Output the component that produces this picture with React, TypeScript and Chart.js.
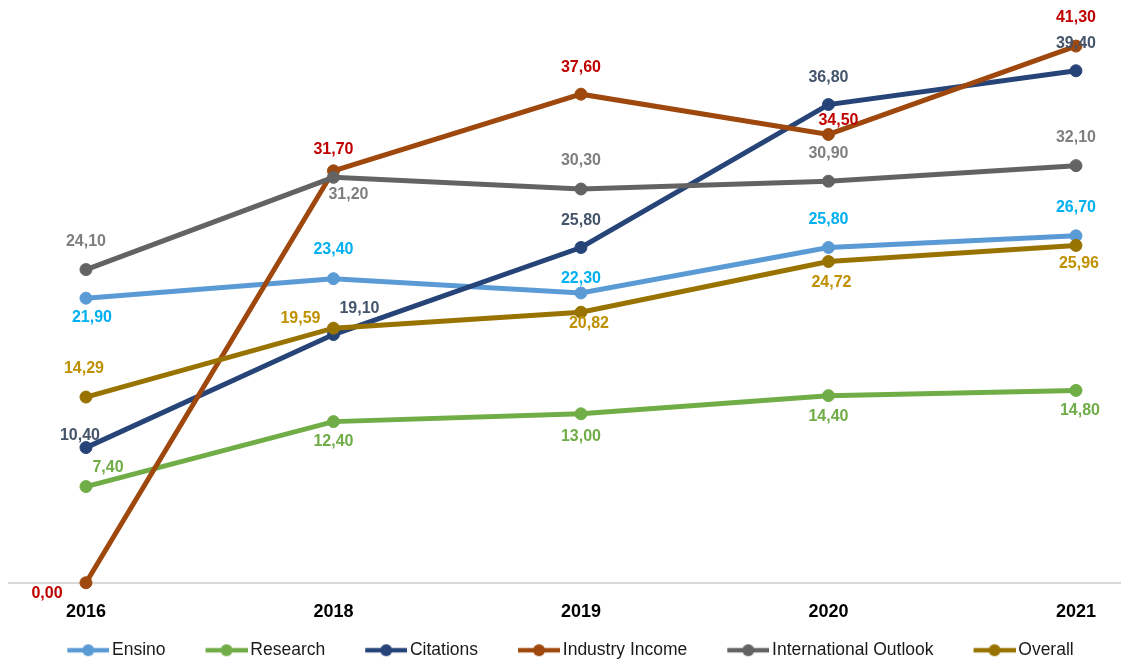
import React, { useEffect, useRef } from "react";
import { Chart, registerables } from "chart.js";

Chart.register(...registerables);

const years = ["2016", "2018", "2019", "2020", "2021"];
const ensino = [21.9, 23.4, 22.3, 25.8, 26.7];
const research = [7.4, 12.4, 13.0, 14.4, 14.8];
const citations = [10.4, 19.1, 25.8, 36.8, 39.4];
const industryIncome = [0.0, 31.7, 37.6, 34.5, 41.3];
const internationalOutlook = [24.1, 31.2, 30.3, 30.9, 32.1];
const overall = [14.29, 19.59, 20.82, 24.72, 25.96];

const seriesNames = ["Ensino", "Research", "Citations", "Industry Income", "International Outlook", "Overall"];
const seriesValues = [ensino, research, citations, industryIncome, internationalOutlook, overall];
const lineColors = ["#5B9BD5", "#70AD47", "#264478", "#9E480E", "#636363", "#997300"];
const labelColors = ["#00B0F0", "#70AD47", "#44546A", "#C00000", "#7F7F7F", "#BF9000"];
// label offsets (dx, dy) from each point, in px
const labelOffsets = [
  [[6, 19], [0, -29], [0, -14], [0, -28], [0, -28]],
  [[22, -19], [0, 20], [0, 23], [0, 21], [4, 20]],
  [[-6, -12], [26, -26], [0, -27], [0, -27], [0, -27]],
  [[-39, 11], [0, -21], [0, -27], [10, -14], [0, -28]],
  [[0, -28], [15, 17], [0, -28], [0, -28], [0, -28]],
  [[-2, -28], [-33, -10], [8, 11], [3, 21], [3, 18]],
];

const FONT = '"Liberation Sans", Arial, sans-serif';

function makeLegendImage(color: string): HTMLCanvasElement {
  const c = document.createElement("canvas");
  c.width = 59;
  c.height = 14;
  const ctx = c.getContext("2d")!;
  ctx.strokeStyle = color;
  ctx.lineWidth = 4.5;
  ctx.beginPath();
  ctx.moveTo(17, 7);
  ctx.lineTo(59, 7);
  ctx.stroke();
  ctx.fillStyle = color;
  ctx.beginPath();
  ctx.arc(38, 7, 6, 0, Math.PI * 2);
  ctx.fill();
  return c;
}

const dataLabelPlugin = {
  id: "dataLabels",
  afterLayout(chart: any) {
    // let the x tick labels extend below the (shortened) axis box without clipping
    if (chart.scales.x) chart.scales.x.bottom = chart.height;
  },
  afterDatasetsDraw(chart: any) {
    const ctx = chart.ctx;
    ctx.save();
    ctx.font = `bold 16px ${FONT}`;
    ctx.textAlign = "center";
    ctx.textBaseline = "middle";
    chart.data.datasets.forEach((ds: any, i: number) => {
      const meta = chart.getDatasetMeta(i);
      ctx.fillStyle = labelColors[i];
      meta.data.forEach((pt: any, j: number) => {
        const v = seriesValues[i][j];
        const [dx, dy] = labelOffsets[i][j];
        ctx.fillText(v.toFixed(2).replace(".", ","), pt.x + dx, pt.y + dy);
      });
    });
    ctx.restore();
  },
};

export default function App() {
  const ref = useRef<HTMLCanvasElement | null>(null);

  useEffect(() => {
    if (!ref.current) return;
    const images = lineColors.map(makeLegendImage);
    const chart = new Chart(ref.current, {
      type: "line",
      data: {
        datasets: seriesNames.map((name, i) => ({
          label: name,
          data: seriesValues[i].map((v, j) => ({ x: j, y: v })),
          borderColor: lineColors[i],
          backgroundColor: lineColors[i],
          pointBackgroundColor: lineColors[i],
          pointBorderColor: lineColors[i],
          pointBorderWidth: 1,
          pointRadius: 6,
          borderWidth: 5,
          tension: 0,
          fill: false,
          order: seriesNames.length - 1 - i,
          clip: false as any,
        })),
      },
      options: {
        responsive: false,
        animation: false,
        layout: { autoPadding: false, padding: { top: 11, left: 9, right: 0, bottom: 0 } },
        scales: {
          x: {
            type: "linear",
            min: -0.311,
            max: 4.182,
            grid: { display: false, drawTicks: false },
            border: { display: true, color: "#D9D9D9", width: 2 },
            afterBuildTicks: (axis: any) => {
              axis.ticks = years.map((_, i) => ({ value: i }));
            },
            afterFit: (axis: any) => {
              axis.height = 29.75;
            },
            ticks: {
              padding: 18.5,
              color: "#000000",
              font: { family: FONT, size: 18, weight: "bold" },
              callback: (value: any) => years[value as number] ?? "",
            },
          },
          y: {
            display: false,
            min: 0,
            max: 44,
          },
        },
        plugins: {
          legend: {
            position: "bottom",
            labels: {
              usePointStyle: true,
              pointStyleWidth: 47,
              padding: 29,
              color: "#1a1a1a",
              font: { family: FONT, size: 17.5 },
              sort: (a: any, b: any) => a.datasetIndex - b.datasetIndex,
              generateLabels: (c: any) => {
                const items = (Chart.defaults.plugins.legend.labels as any).generateLabels(c);
                return items.map((it: any) => ({ ...it, pointStyle: images[it.datasetIndex] }));
              },
            },
          },
          tooltip: { enabled: false },
          title: { display: false },
        },
      },
      plugins: [dataLabelPlugin],
    } as any);
    return () => chart.destroy();
  }, []);

  return (
    <div
      style={{
        position: "fixed",
        left: 0,
        top: 0,
        width: 1121,
        height: 660,
        overflow: "hidden",
        background: "#ffffff",
      }}
    >
      <canvas ref={ref} width={1121} height={669} style={{ display: "block" }} />
    </div>
  );
}
